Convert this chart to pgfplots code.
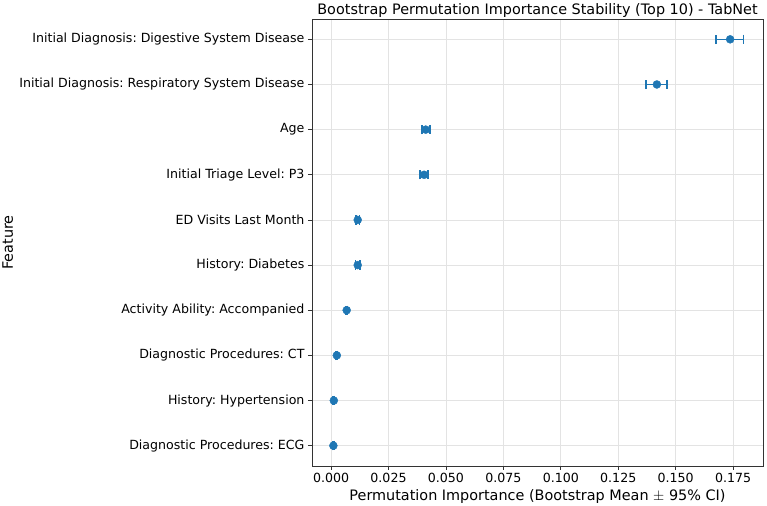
\documentclass[border=0pt]{standalone}
\usepackage{pgfplots}
\pgfplotsset{compat=1.18}
\usepackage{pgfplotstable}
\usepackage{fontspec}
\setmainfont{DejaVu Sans}
\frenchspacing
\definecolor{mplblue}{HTML}{1F77B4}
\definecolor{gridc}{HTML}{E3E3E3}
\pgfplotstableread{
y   x       em      ep
0   0.1737  0.0061  0.0058
1   0.1418  0.0048  0.0045
2   0.0412  0.0017  0.0018
3   0.0405  0.0017  0.0017
4   0.0116  0.0008  0.0008
5   0.0116  0.0010  0.0010
6   0.0068  0.0004  0.0004
7   0.0025  0.0004  0.0004
8   0.0012  0.0003  0.0003
9   0.0010  0.0003  0.0003
}\datatable
\begin{document}
\begin{tikzpicture}
\begin{axis}[
  scale only axis,
  width=451pt, height=447pt,
  xmin=-0.0083, xmax=0.188,
  ymin=-0.45, ymax=9.45,
  y dir=reverse,
  ytick={0,...,9},
  yticklabels={Initial Diagnosis: Digestive System Disease,
    Initial Diagnosis: Respiratory System Disease,
    Age, Initial Triage Level: P3, ED Visits Last Month,
    History: Diabetes, Activity Ability: Accompanied,
    Diagnostic Procedures: CT, History: Hypertension,
    Diagnostic Procedures: ECG},
  xtick={0,0.025,...,0.176},
  xticklabel style={/pgf/number format/.cd, fixed, fixed zerofill, precision=3},
  /pgf/number format/assume math mode=true,
  tick label style={font=\fontsize{12.6}{15}\selectfont},
  label style={font=\fontsize{14.4}{17}\selectfont},
  title style={font=\fontsize{14.4}{17}\selectfont, at={(0.5,1)}, anchor=base, yshift=-1.5pt},
  title={Bootstrap Permutation Importance Stability (Top 10) - TabNet},
  xlabel={Permutation Importance (Bootstrap Mean $\pm$ 95\% CI)},
  ylabel={Feature},
  xlabel style={yshift=0pt},
  ylabel style={at={(axis description cs:-0.663,0.5)}, anchor=base, inner sep=0pt},
  grid=major,
  major grid style={gridc, line width=0.8pt},
  tick align=outside,
  major tick length=4pt,
  tick style={black!80, line width=0.8pt},
  axis line style={black!80, line width=0.8pt},
  xtick pos=bottom, ytick pos=left,
]
\addplot[
  only marks, mark=*, color=mplblue, mark size=4pt,
  error bars/.cd, x dir=both, x explicit,
  error bar style={line width=1.5pt, mplblue},
  error mark options={rotate=90, mark size=4.7pt, line width=1.5pt, mplblue},
] table[x=x, y=y, x error plus=ep, x error minus=em] {\datatable};
\end{axis}
\pgfresetboundingbox
\path (current axis.south west) ++(-312pt,-40pt) coordinate (a);
\path (current axis.north east) ++(4pt,19pt) coordinate (b);
\useasboundingbox (a) rectangle (b);
\end{tikzpicture}
\end{document}
